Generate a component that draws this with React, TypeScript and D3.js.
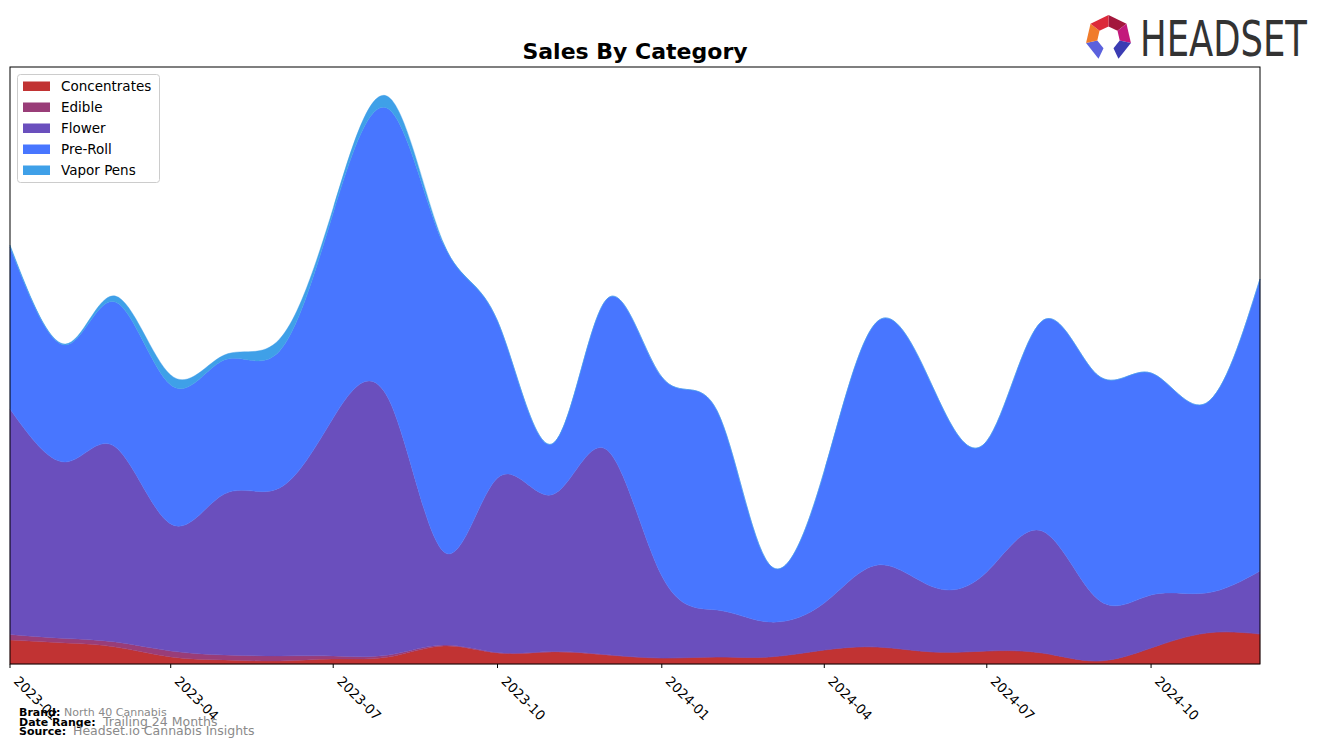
import React from "react";
import * as d3 from "d3";

const months = [
  "2023-01", "2023-02", "2023-03", "2023-04", "2023-05", "2023-06",
  "2023-07", "2023-08", "2023-09", "2023-10", "2023-11", "2023-12",
  "2024-01", "2024-02", "2024-03", "2024-04", "2024-05", "2024-06",
  "2024-07", "2024-08", "2024-09", "2024-10", "2024-11", "2024-12",
];
const categories = ["Concentrates", "Edible", "Flower", "Pre-Roll", "Vapor Pens"];
const concentrates = [24, 21, 17, 7, 4, 3, 5, 7, 18, 11, 12, 9, 6, 7, 7, 14, 17, 12, 13, 11, 3, 16, 31, 30];
const edible = [5.5, 4.5, 5, 6, 5, 5, 3, 2, 1, 0.5, 0.5, 0.5, 0, 0, 0, 0, 0, 0, 0, 0, 0, 0, 0, 0];
const flower = [225.5, 176.5, 195, 127, 161, 168, 238, 256, 93, 174.5, 157, 205, 82, 47, 35, 47, 82, 65, 79, 122, 62, 53, 40, 63];
const preRoll = [162, 117, 145, 139, 134, 137, 205, 290, 307, 157, 51, 150, 199, 199, 58, 132, 244, 199, 131, 210, 224, 222, 190, 292];
const vaporPens = [2, 1, 6, 10, 5, 12, 5, 12, 1, 0, 0, 0, 0, 0, 0, 0, 0, 0, 0, 0, 0, 0, 0, 0];
const tickLabels = ["2023-01", "2023-04", "2023-07", "2023-10", "2024-01", "2024-04", "2024-07", "2024-10"];
const colors = ["#c13333", "#993d78", "#6a4fbd", "#4876ff", "#3fa0e8"];

const W = 1324, H = 748;
const left = 10, right = 1260, top = 67, bottom = 664;

export default function App() {
  const parse = d3.timeParse("%Y-%m");
  const series = [concentrates, edible, flower, preRoll, vaporPens];
  const rows = months.map((m, i) => {
    const r: any = { date: parse(m) };
    categories.forEach((c, k) => (r[c] = series[k][i]));
    return r;
  });
  const stacked = d3.stack<any>().keys(categories)(rows);
  const x = d3.scaleTime().domain([parse(months[0])!, parse(months[months.length - 1])!]).range([left, right]);
  const maxTotal = d3.max(stacked[stacked.length - 1], (d) => d[1]) as number;
  const y = d3.scaleLinear().domain([0, maxTotal * 1.053]).range([bottom, top]);
  const area = d3
    .area<any>()
    .x((d) => x(d.data.date))
    .y0((d) => y(d[0]))
    .y1((d) => y(d[1]))
    .curve(d3.curveNatural);

  // logo heptagon ring
  const cx = 1108.5, cy = 38, ro = 23, ri = 11.5;
  const angs = d3.range(8).map((i) => ((-90 + (360 / 7) * i) * Math.PI) / 180);
  const pt = (r: number, a: number) => `${cx + r * Math.cos(a)},${cy + r * Math.sin(a)}`;
  const segColors = ["#a3173c", "#c3197c", "#3b3cb3", null, "#5b61dd", "#f07b2b", "#dc2a3a"];

  return (
    <svg width={W} height={H} style={{ position: "absolute", left: 0, top: 0, background: "#fff" }}
      fontFamily="'DejaVu Sans', sans-serif">
      <text x={635} y={59} textAnchor="middle" fontSize={22} fontWeight="bold" fill="#000">Sales By Category</text>
      {stacked.map((s, k) => (
        <path key={categories[k]} d={area(s) || ""} fill={colors[k]} stroke={colors[k]} strokeWidth={0.4} />
      ))}
      <rect x={left} y={top} width={right - left} height={bottom - top} fill="none" stroke="#000" strokeWidth={1} />
      {tickLabels.map((t) => {
        const tx = x(parse(t)!);
        return (
          <g key={t}>
            <line x1={tx} x2={tx} y1={bottom} y2={bottom + 4} stroke="#000" strokeWidth={1} />
            <text transform={`translate(${tx + 3},${682}) rotate(45)`} fontSize={13.3} fill="#000">{t}</text>
          </g>
        );
      })}
      <g>
        <rect x={17.5} y={74.5} width={142} height={108} rx={3} fill="#fff" fillOpacity={0.8} stroke="#cccccc" />
        {categories.map((c, k) => (
          <g key={c}>
            <rect x={23} y={81.5 + k * 21} width={27} height={9.5} fill={colors[k]} />
            <text x={61} y={91 + k * 21} fontSize={13.5} fill="#000">{c}</text>
          </g>
        ))}
      </g>
      <g>
        <text x={19} y={716} fontSize={11} fontWeight="bold" fill="#000">Brand:</text>
        <text x={64} y={716} fontSize={11} fill="#8a8a8a">North 40 Cannabis</text>
        <text x={19} y={725.5} fontSize={11} fontWeight="bold" fill="#000">Date Range:</text>
        <text x={103} y={725.5} fontSize={12.5} fill="#8a8a8a">Trailing 24 Months</text>
        <text x={19} y={735} fontSize={11} fontWeight="bold" fill="#000">Source:</text>
        <text x={73} y={735} fontSize={12.5} fill="#8a8a8a">Headset.io Cannabis Insights</text>
      </g>
      <g>
        {segColors.map((col, i) =>
          col ? (
            <polygon key={i} points={[pt(ro, angs[i]), pt(ro, angs[i + 1]), pt(ri, angs[i + 1]), pt(ri, angs[i])].join(" ")} fill={col} />
          ) : null
        )}
        <text x={1140} y={56} fontSize={49} fill="#333" textLength={167} lengthAdjust="spacingAndGlyphs"
          fontFamily="'Liberation Sans Narrow', 'DejaVu Sans', sans-serif">HEADSET</text>
      </g>
    </svg>
  );
}
